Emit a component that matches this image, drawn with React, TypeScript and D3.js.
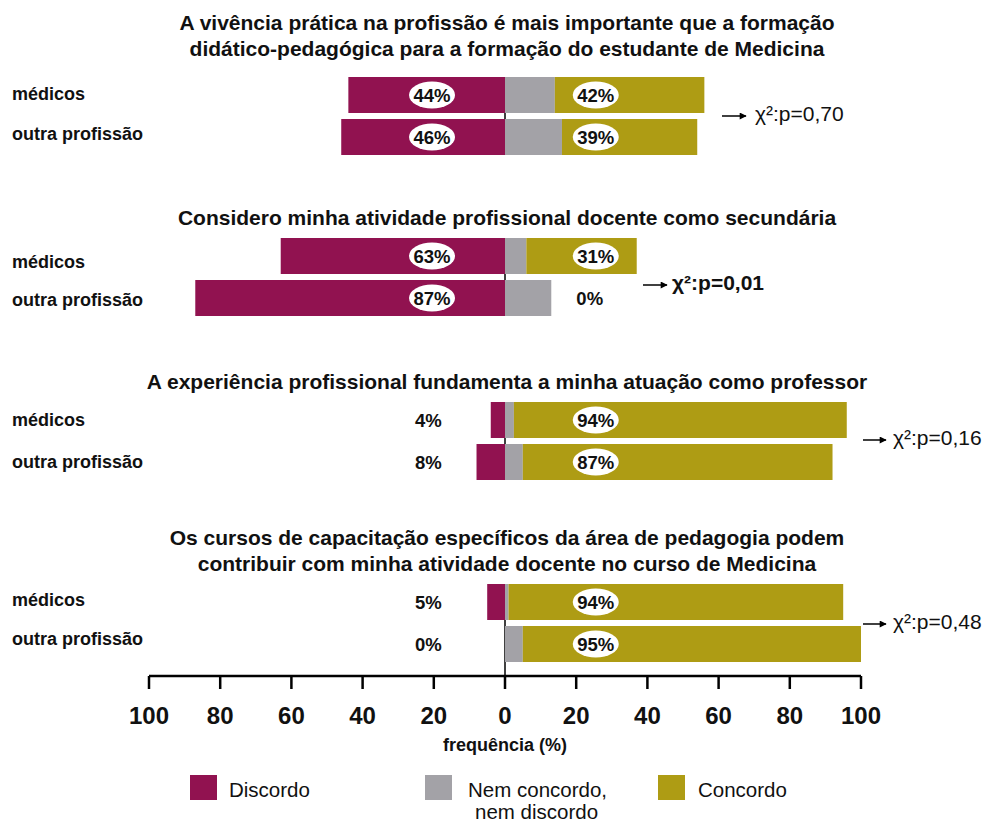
import React from "react";
import * as d3 from "d3";

const titles: string[][] = [
  ["A vivência prática na profissão é mais importante que a formação", "didático-pedagógica para a formação do estudante de Medicina"],
  ["Considero minha atividade profissional docente como secundária"],
  ["A experiência profissional fundamenta a minha atuação como professor"],
  ["Os cursos de capacitação específicos da área de pedagogia podem", "contribuir com minha atividade docente no curso de Medicina"],
];
const groups = ["médicos", "outra profissão"];
// values per question: [médicos, outra profissão]
const discordo = [[44, 46], [63, 87], [4, 8], [5, 0]];
const neutro = [[14, 16], [6, 13], [2.5, 5], [1, 5]];
const concordo = [[42, 38], [31, 0], [93.5, 87], [94, 95]];
const discordoLabels = [["44%", "46%"], ["63%", "87%"], ["4%", "8%"], ["5%", "0%"]];
const concordoLabels = [["42%", "39%"], ["31%", "0%"], ["94%", "87%"], ["94%", "95%"]];
const chiLabels = ["χ²:p=0,70", "χ²:p=0,01", "χ²:p=0,16", "χ²:p=0,48"];
const chiBold = [false, true, false, false];
const ticks = [-100, -80, -60, -40, -20, 0, 20, 40, 60, 80, 100];
const legendLabels = [["Discordo"], ["Nem concordo,", "nem discordo"], ["Concordo"]];

const C_DIS = "#911250";
const C_NEU = "#A3A2A7";
const C_CON = "#AE9C14";
const FONT = "'Liberation Sans', Arial, sans-serif";

export default function App() {
  const x = d3.scaleLinear().domain([-100, 100]).range([149, 861]);
  const groupTops = [77, 238, 402, 584];
  const barH = 36;
  const step = 42;
  const titleY = [[22, 48], [217], [381], [537, 563]];
  const labelShift = [[-1, -3], [6, 2], [0, 0], [-2, -5]];
  const chiPos = [
    { x1: 722, x2: 746, tx: 755, y: 113 },
    { x1: 643, x2: 667, tx: 672, y: 282 },
    { x1: 863, x2: 886, tx: 893, y: 437 },
    { x1: 863, x2: 886, tx: 893, y: 621 },
  ];
  const axisY = 676;
  const legendColors = [C_DIS, C_NEU, C_CON];
  const legendX = [190, 425, 658];
  const legendTextX = [229, 468, 698];

  return (
    <svg width={985} height={823} style={{ position: "absolute", left: 0, top: 0, background: "#fff" }} fontFamily={FONT}>
      <defs>
        <marker id="arr" viewBox="0 0 10 10" refX="9" refY="5" markerWidth="9" markerHeight="7" markerUnits="userSpaceOnUse" orient="auto">
          <path d="M0,0 L10,5 L0,10 z" fill="#000" />
        </marker>
      </defs>
      {titles.map((lines, qi) => (
        <g key={"t" + qi}>
          {lines.map((ln, li) => (
            <text key={li} x={507} y={titleY[qi][li]} textAnchor="middle" dominantBaseline="central" fontSize={21} fontWeight="bold" fill="#111">{ln}</text>
          ))}
        </g>
      ))}
      {titles.map((_, qi) => {
        const top = groupTops[qi];
        const bottom = qi === 3 ? axisY : top + step + barH;
        return (
          <g key={"g" + qi}>
            <line x1={x(0)} x2={x(0)} y1={top} y2={bottom} stroke="#000" strokeWidth={1.5} />
            {groups.map((gname, gi) => {
              const y = top + gi * step;
              const d = discordo[qi][gi];
              const n = neutro[qi][gi];
              const c = concordo[qi][gi];
              const cy = y + barH / 2;
              const disLbl = discordoLabels[qi][gi];
              const conLbl = concordoLabels[qi][gi];
              const disInside = d >= 20;
              const conInside = c >= 20;
              return (
                <g key={gi}>
                  <text x={12} y={cy + labelShift[qi][gi]} dominantBaseline="central" fontSize={18} fontWeight="bold" fill="#111">{gname}</text>
                  {d > 0 && <rect x={x(-d)} y={y} width={x(0) - x(-d)} height={barH} fill={C_DIS} />}
                  {n > 0 && <rect x={x(0)} y={y} width={x(n) - x(0)} height={barH} fill={C_NEU} />}
                  {c > 0 && <rect x={x(n)} y={y} width={x(n + c) - x(n)} height={barH} fill={C_CON} />}
                  {disInside && <ellipse cx={x(-20.5)} cy={cy} rx={23} ry={13.5} fill="#fff" />}
                  <text x={disInside ? x(-20.5) : x(-21.5)} y={cy} textAnchor="middle" dominantBaseline="central" fontSize={18.5} fontWeight="bold" fill="#111">{disLbl}</text>
                  {conInside && <ellipse cx={x(25.5)} cy={cy} rx={23} ry={13.5} fill="#fff" />}
                  <text x={conInside ? x(25.5) : x(23.8)} y={cy} textAnchor="middle" dominantBaseline="central" fontSize={18.5} fontWeight="bold" fill="#111">{conLbl}</text>
                </g>
              );
            })}
            <line x1={chiPos[qi].x1} x2={chiPos[qi].x2} y1={chiPos[qi].y + 3} y2={chiPos[qi].y + 3} stroke="#000" strokeWidth={1.5} markerEnd="url(#arr)" />
            <text x={chiPos[qi].tx} y={chiPos[qi].y} dominantBaseline="central" fontSize={21} fontWeight={chiBold[qi] ? "bold" : "normal"} fill="#111">{chiLabels[qi]}</text>
          </g>
        );
      })}
      <line x1={x(-100)} x2={x(100)} y1={axisY} y2={axisY} stroke="#000" strokeWidth={2.5} />
      {ticks.map((t) => (
        <g key={t}>
          <line x1={x(t)} x2={x(t)} y1={axisY} y2={axisY + 13} stroke="#000" strokeWidth={2.5} />
          <text x={x(t)} y={axisY + 39} textAnchor="middle" dominantBaseline="central" fontSize={24} fontWeight="bold" fill="#111">{Math.abs(t)}</text>
        </g>
      ))}
      <text x={505} y={745} textAnchor="middle" dominantBaseline="central" fontSize={18} fontWeight="bold" fill="#111">frequência (%)</text>
      {legendLabels.map((lines, i) => (
        <g key={"l" + i}>
          <rect x={legendX[i]} y={775} width={27} height={25} fill={legendColors[i]} />
          {lines.map((ln, li) => (
            <text key={li} x={legendTextX[i] + li * 7} y={789 + li * 22} dominantBaseline="central" fontSize={20.5} fill="#111">{ln}</text>
          ))}
        </g>
      ))}
    </svg>
  );
}
